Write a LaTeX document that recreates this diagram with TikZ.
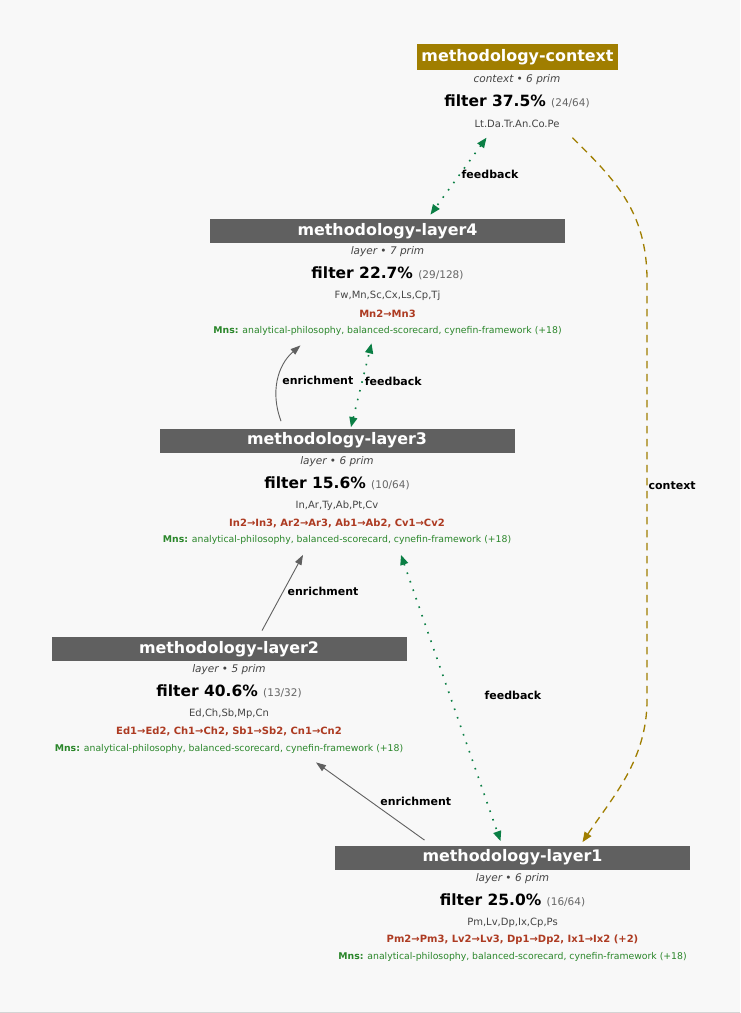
\documentclass[tikz,border=0pt]{standalone}
\usepackage{fontspec}
\setmainfont{DejaVu Sans}
\usepackage{xcolor}
\usepackage{tikz}
\usetikzlibrary{
    arrows.meta,
    positioning,
    fit
}
\definecolor{bgcol}{HTML}{F8F8F8}
\definecolor{barcol}{HTML}{606060}
\definecolor{ctxcol}{HTML}{A07E00}
\definecolor{fbcol}{HTML}{0B7F45}
\definecolor{mnscol}{HTML}{2A862A}
\definecolor{transcol}{HTML}{AD3B22}
\definecolor{kindcol}{HTML}{444444}
\definecolor{cntcol}{HTML}{666666}
\tikzstyle{titlebar} = [
    fill=barcol,
    text=white,
    font=\fontsize{15.9}{18}\selectfont\bfseries,
    minimum width=355pt,
    minimum height=24pt,
    inner sep=0pt
]
\tikzstyle{kindtext} = [text=kindcol, font=\fontsize{10.5}{12}\selectfont\itshape, inner sep=0pt]
\tikzstyle{filttext} = [font=\fontsize{15.5}{18}\selectfont\bfseries, inner sep=0pt]
\tikzstyle{primtext} = [text=kindcol, font=\fontsize{10}{12}\selectfont, inner sep=0pt]
\tikzstyle{transtext} = [text=transcol, font=\fontsize{10}{12}\selectfont\bfseries, inner sep=0pt]
\tikzstyle{mnstext} = [text=mnscol, font=\fontsize{9.3}{11}\selectfont, inner sep=0pt]
\tikzstyle{blockfit} = [inner xsep=8pt, inner ysep=9pt]
\tikzstyle{elabel} = [font=\fontsize{11}{13}\selectfont\bfseries, inner sep=1pt, anchor=west]
\tikzstyle{enrich} = [
    draw=barcol,
    line width=0.9pt,
    -{Triangle[length=10pt,width=7pt]}
]
\tikzstyle{feedback} = [
    draw=fbcol,
    line width=1.6pt,
    dash pattern=on 1.6pt off 7.4pt,
    {Triangle[length=10pt,width=8pt]}-{Triangle[length=10pt,width=8pt]}
]
\tikzstyle{ctxline} = [
    draw=ctxcol,
    line width=1.3pt,
    dash pattern=on 7.5pt off 5.5pt,
    -{Triangle[length=10pt,width=8pt]}
]
\newcommand{\fcount}[1]{{\fontsize{10.5}{12}\selectfont\mdseries\color{cntcol}#1}}
% one layer: name, x, y of bar, title, kind, filter, count, prims, transitions
\newcommand{\methblock}[9]{%
  \node[titlebar]  (#1bar)   at (#2,#3)      {#4};
  \node[kindtext]  (#1kind)  at (#2,#3+21)   {#5};
  \node[filttext]  (#1filt)  at (#2,#3+42.5) {#6 \fcount{#7}};
  \node[primtext]  (#1prims) at (#2,#3+65)   {#8};
  \node[transtext] (#1trans) at (#2,#3+82.5) {#9};
  \node[mnstext]   (#1mns)   at (#2,#3+99.5) {\textbf{Mns:} analytical-philosophy, balanced-scorecard, cynefin-framework (+18)};
  \node[blockfit, fit=(#1bar)(#1mns)] (#1) {};
}
\begin{document}
\begin{tikzpicture}[x=1pt, y=-1pt]
\useasboundingbox (0,0) rectangle (740,1013);
\fill[bgcol] (0,0) rectangle (740,1013);
\fill[black!17] (0,1011.5) rectangle (740,1013);

% context
\node[titlebar, fill=ctxcol, minimum width=0pt, minimum height=26pt, inner xsep=4pt] (ctxbar) at (517.5,57) {methodology-context};
\node[kindtext] (ctxkind)  at (517,79.5)  {context • 6 prim};
\node[filttext] (ctxfilt)  at (517,101.5) {filter 37.5\% \fcount{(24/64)}};
\node[primtext] (ctxprims) at (517,123.5) {Lt.Da.Tr.An.Co.Pe};
\node[blockfit, fit=(ctxbar)(ctxprims)] (ctx) {};

% layers
\methblock{l4}{387.5}{231}{methodology-layer4}{layer • 7 prim}{filter 22.7\%}{(29/128)}{Fw,Mn,Sc,Cx,Ls,Cp,Tj}{Mn2→Mn3}
\methblock{l3}{337}{440.5}{methodology-layer3}{layer • 6 prim}{filter 15.6\%}{(10/64)}{In,Ar,Ty,Ab,Pt,Cv}{In2→In3, Ar2→Ar3, Ab1→Ab2, Cv1→Cv2}
\methblock{l2}{229}{649}{methodology-layer2}{layer • 5 prim}{filter 40.6\%}{(13/32)}{Ed,Ch,Sb,Mp,Cn}{Ed1→Ed2, Ch1→Ch2, Sb1→Sb2, Cn1→Cn2}
\methblock{l1}{512.5}{857.5}{methodology-layer1}{layer • 6 prim}{filter 25.0\%}{(16/64)}{Pm,Lv,Dp,Ix,Cp,Ps}{Pm2→Pm3, Lv2→Lv3, Dp1→Dp2, Ix1→Ix2 (+2)}

% edges
\draw[feedback] ([xshift=-31pt,yshift=-1pt]ctx.south) -- node[elabel, pos=0.475] {feedback} ([xshift=43pt,yshift=-5pt]l4.north);
\coordinate (ctxtop) at (647,280);
\coordinate (ctxlow) at (647,700);
\draw[ctxline] ([xshift=55pt,yshift=-1pt]ctx.south) .. controls +(40,40) and +(0,-70) .. (ctxtop)
    -- node[elabel, pos=0.49] {context} (ctxlow)
    .. controls +(0,60) and +(30,-45) .. ([xshift=70pt,yshift=-6pt]l1.north);
\draw[enrich] ([xshift=-56pt,yshift=-2pt]l3.north) to[bend left=35] node[elabel, xshift=3pt] {enrichment} ([xshift=-87pt,yshift=-1pt]l4.south);
\draw[feedback] ([xshift=14pt,yshift=-8pt]l3.north) -- node[elabel, pos=0.544, xshift=1pt] {feedback} ([xshift=-16pt,yshift=1pt]l4.south);
\draw[enrich] ([xshift=33pt,yshift=-3pt]l2.north) -- node[elabel, pos=0.516, xshift=3pt] {enrichment} ([xshift=-34pt,yshift=-1pt]l3.south);
\draw[feedback] ([xshift=64pt,yshift=-1pt]l3.south) -- node[elabel, pos=0.49, xshift=33pt] {feedback} ([xshift=-12pt,yshift=-5pt]l1.north);
\draw[enrich] ([xshift=-88pt,yshift=-4pt]l1.north) -- node[elabel, pos=0.503, xshift=9pt] {enrichment} ([xshift=87pt]l2.south);
\end{tikzpicture}
\end{document}
